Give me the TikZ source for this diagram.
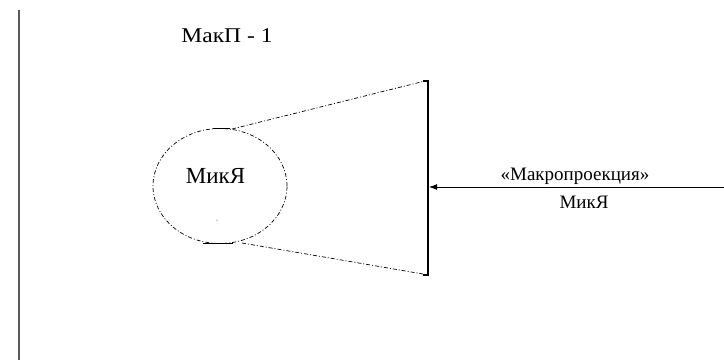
\documentclass[tikz,border=0pt]{standalone}
\usepackage{fontspec}
\setmainfont{Liberation Serif}
\usetikzlibrary{arrows.meta,shapes.geometric}
\tikzset{
  lbl/.style={font=\fontsize{19}{22}\selectfont, inner sep=0pt, anchor=base},
  dline/.style={dash pattern=on 4pt off 2pt on 1pt off 2pt, line width=0.7pt},
}
\begin{document}
\begin{tikzpicture}[x=1pt,y=-1pt]
\useasboundingbox (0,0) rectangle (724,360);
% left frame line
\draw[line width=1.4pt, black!65] (19,10) -- (19,360);
% title
\node[lbl, font=\fontsize{21}{24}\selectfont, xscale=1.12, transform shape] (makp) at (227,42) {МакП - 1};
% ellipse
\node[draw, dline, ellipse, minimum width=134pt, minimum height=115pt, inner sep=0pt] (mik) at (220,186) {};
\node[lbl, font=\fontsize{23}{26}\selectfont] (miktxt) at (215.5,183) {МикЯ};
\coordinate (dot) at (217,220);
\fill (dot) circle (0.5pt);
\coordinate (et) at (232,129);
\coordinate (eb) at (242,243);
\draw[line width=0.9pt] (203,243) -- (233,243);
\draw[line width=0.9pt] (213,128.5) -- (230,128.5);
% vertical bar
\coordinate (bt) at (428,81);
\coordinate (bb) at (428,275);
\draw[line width=1.8pt] (423,81) -- (bt) -- (bb) -- (423,275);
\draw[dline] (et) -- (423,81.5);
\draw[dline] (eb) -- (423,274);
% arrow
\coordinate (ar) at (724,187);
\coordinate (al) at (429,187);
\draw[line width=0.9pt, -{Latex[length=8pt,width=6pt]}] (ar) -- (al);
\node[lbl] (mp) at (575,180) {«Макропроекция»};
\node[lbl] (mk) at (584,208) {МикЯ};
\end{tikzpicture}
\end{document}
